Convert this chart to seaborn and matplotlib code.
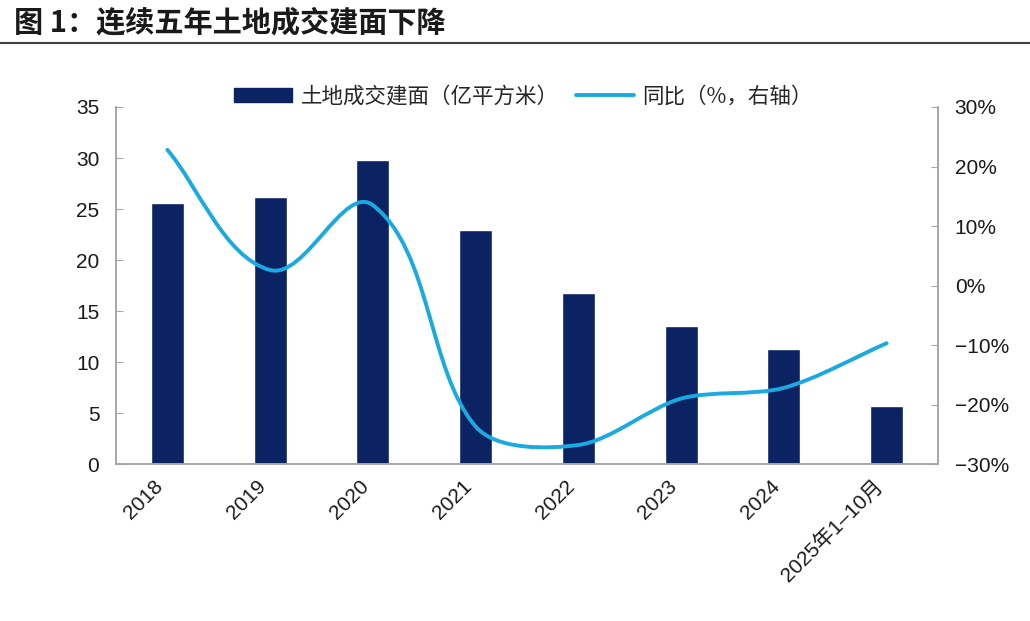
import numpy as np
import pandas as pd
import matplotlib.pyplot as plt
import seaborn as sns
from matplotlib.path import Path
from matplotlib.patches import PathPatch, Patch
from matplotlib.lines import Line2D
from matplotlib.ticker import FuncFormatter
from matplotlib.transforms import ScaledTranslation

# data
years = ['2018', '2019', '2020', '2021', '2022', '2023', '2024', '2025年1–10月']
area = [25.6, 26.2, 29.8, 22.9, 16.8, 13.5, 11.3, 5.7]        # 亿平方米
yoy = [22.8, 2.6, 13.5, -23.7, -26.8, -19.0, -17.2, -9.7]      # %

bar_color = '#0B2263'
line_color = '#1BA9E1'
axis_gray = '#A6A6A6'

sns.set_style('white')
plt.rcParams['font.family'] = ['Liberation Sans', 'Noto Sans CJK SC']
plt.rcParams['axes.unicode_minus'] = True

df = pd.DataFrame({'year': years, 'area': area})

fig = plt.figure(figsize=(10.3, 6.21), dpi=100)
ax = fig.add_axes([0.1126, 0.2528, 0.7981, 0.5749])

sns.barplot(data=df, x='year', y='area', color=bar_color, width=0.32,
            saturation=1, ax=ax)
ax.set_xlim(-0.5, len(years) - 0.5)
ax.set_ylim(0, 35)
ax.set_yticks(range(0, 36, 5))
ax.set_xlabel('')
ax.set_ylabel('')

# right axis with smoothed yoy line
ax2 = ax.twinx()
ax2.set_ylim(-30, 30)
ax2.set_yticks(range(-30, 31, 10))
ax2.yaxis.set_major_formatter(FuncFormatter(lambda v, p: f'{int(v)}%'.replace('-', '\u2212')))

# bezier through the points, handles proportional to neighbouring chord (screen space)
tr = ax2.transData
pts = tr.transform(np.column_stack([np.arange(len(yoy)), yoy]))
n = len(pts)
tang = []
for i in range(n):
    d = pts[min(i + 1, n - 1)] - pts[max(i - 1, 0)]
    tang.append(d / np.hypot(*d))
k = 0.3
verts = [pts[0]]
codes = [Path.MOVETO]
for i in range(n - 1):
    chord = np.hypot(*(pts[i + 1] - pts[i]))
    verts += [pts[i] + tang[i] * chord * k, pts[i + 1] - tang[i + 1] * chord * k, pts[i + 1]]
    codes += [Path.CURVE4] * 3
verts = tr.inverted().transform(np.array(verts))
ax2.add_patch(PathPatch(Path(verts, codes), fill=False, edgecolor=line_color,
                        lw=2.8, capstyle='round'))

# axes styling
for a in (ax, ax2):
    a.spines['top'].set_visible(False)
    for s in ('left', 'right', 'bottom'):
        a.spines[s].set_color(axis_gray)
        a.spines[s].set_linewidth(1.2)
ax.tick_params(axis='y', direction='in', length=5, color=axis_gray, pad=12,
               labelsize=15, labelcolor='#1a1a1a')
ax2.tick_params(axis='y', direction='in', length=5, color=axis_gray, pad=12,
                labelsize=15, labelcolor='#1a1a1a')
ax.set_xticks(np.arange(-0.5, len(years), 1), minor=True)
ax.tick_params(axis='x', which='minor', direction='out', length=6, color=axis_gray)
ax.tick_params(axis='x', which='major', length=0, pad=14, labelsize=15,
               labelcolor='#1a1a1a')
shift = ScaledTranslation(-7 / 100, 0, fig.dpi_scale_trans)
for lab in ax.get_xticklabels():
    lab.set_rotation(45)
    lab.set_ha('right')
    lab.set_va('center')
    lab.set_rotation_mode('anchor')
    lab.set_transform(lab.get_transform() + shift)

# legend
handles = [Patch(facecolor=bar_color, edgecolor=bar_color),
           Line2D([0], [0], color=line_color, lw=2.8)]
fig.legend(handles, ['土地成交建面（亿平方米）', '同比（%，右轴）'],
           loc='center', bbox_to_anchor=(0.508, 0.845), ncol=2, frameon=False,
           prop={'family': ['Noto Sans CJK SC'], 'size': 15.5},
           handlelength=2.7, handleheight=0.6, handletextpad=0.4,
           columnspacing=0.8)

# title and separator
fig.text(0.014, 0.964, '图 1：连续五年土地成交建面下降', fontsize=21,
         fontweight='bold', family=['Noto Sans CJK SC'], va='center',
         color='#1a1a1a')
fig.add_artist(Line2D([0, 1], [0.931, 0.931], color='#404040', lw=1.5))

fig.savefig('out.png', dpi=100)
